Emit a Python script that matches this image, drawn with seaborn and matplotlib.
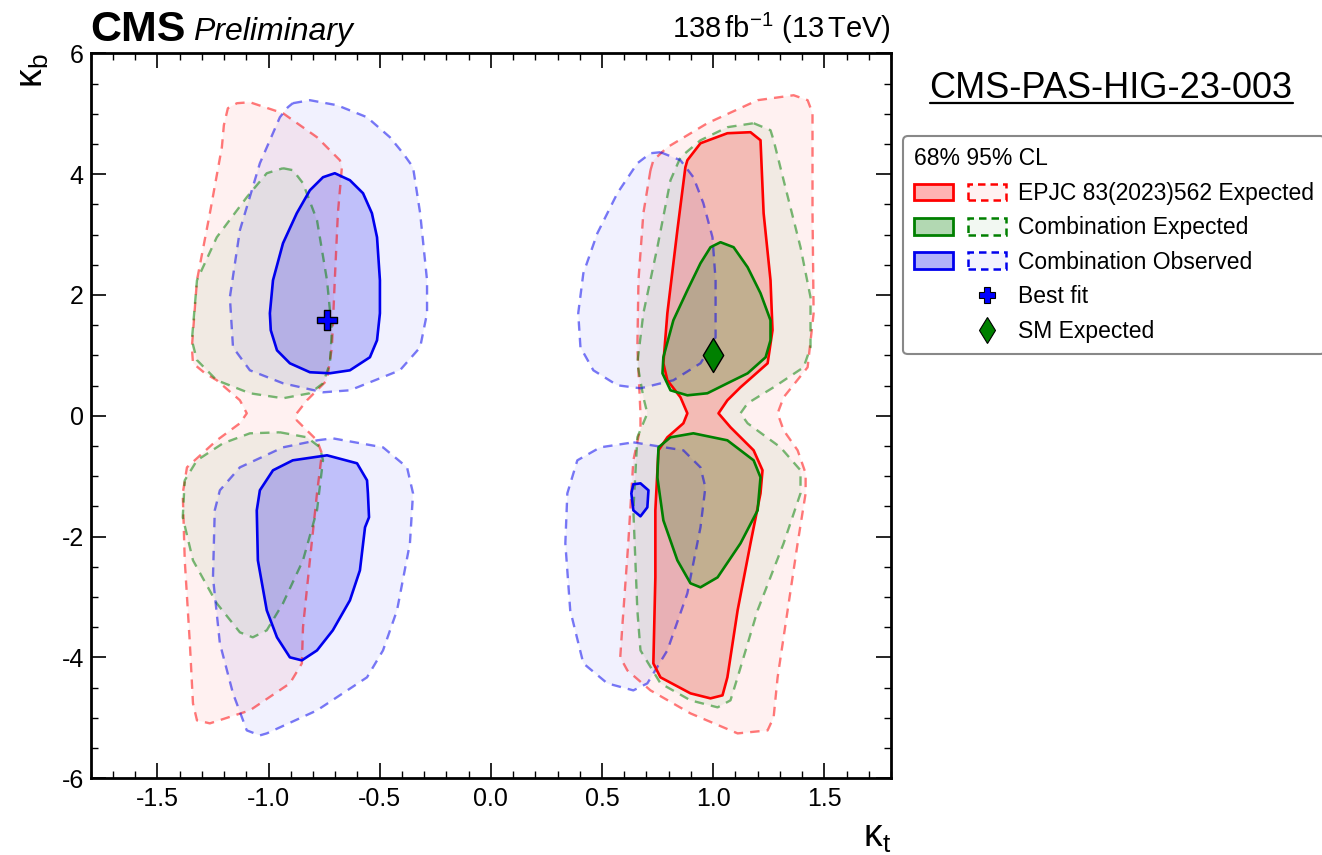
import matplotlib
matplotlib.use("Agg")
import numpy as np
import pandas as pd
import matplotlib.pyplot as plt
import seaborn as sns
from matplotlib.patches import Patch
from matplotlib.lines import Line2D
from matplotlib.legend_handler import HandlerTuple
from matplotlib.colors import to_rgba
from matplotlib.ticker import MultipleLocator, FormatStrFormatter

sns.set_theme(style="ticks")
plt.rcParams['font.family'] = ['Liberation Sans', 'DejaVu Sans']
plt.rcParams['axes.unicode_minus'] = False
plt.rcParams['mathtext.fontset'] = 'custom'
plt.rcParams['mathtext.rm'] = 'Liberation Sans'
plt.rcParams['mathtext.it'] = 'Liberation Sans:italic'
plt.rcParams['mathtext.bf'] = 'Liberation Sans:bold'
for k in ['text.color', 'axes.labelcolor', 'xtick.color', 'ytick.color', 'axes.edgecolor']:
    plt.rcParams[k] = 'black'

# ---------------- data (contour vertices, kappa_t / kappa_b) ----------------
# EPJC 83(2023)562 expected, 95% CL
epjc95_left_x = [-0.873, -0.827, -0.737, -0.715, -0.702, -0.688, -0.670, -0.679, -0.782, -0.935,
                 -1.084, -1.142, -1.183, -1.201, -1.210, -1.264, -1.322, -1.345, -1.340, -1.286,
                 -1.233, -1.129, -1.098, -1.129, -1.233, -1.367, -1.386, -1.377, -1.354, -1.340,
                 -1.322, -1.264, -1.084, -0.904, -0.850, -0.845, -0.814, -0.782, -0.760, -0.782, -0.873]
epjc95_left_y = [0.041, 0.257, 0.588, 1.134, 2.243, 3.353, 4.114, 4.230, 4.611, 5.008,
                 5.190, 5.174, 5.091, 4.810, 4.445, 3.353, 2.243, 1.134, 0.869, 0.704,
                 0.588, 0.257, 0.041, -0.124, -0.406, -0.853, -1.283, -2.392, -3.767, -4.760,
                 -5.041, -5.091, -4.876, -4.429, -4.098, -3.502, -2.392, -1.283, -0.621, -0.406, -0.075]
epjc95_right_x = [0.718, 0.686, 0.664, 0.659, 0.673, 0.673, 0.641, 0.618, 0.591, 0.582,
                  0.614, 0.718, 0.898, 1.110, 1.245, 1.272, 1.290, 1.335, 1.380, 1.416,
                  1.416, 1.380, 1.317, 1.290, 1.317, 1.425, 1.452, 1.447, 1.447, 1.425,
                  1.362, 1.200, 0.974, 0.794, 0.731]
epjc95_right_y = [4.065, 3.353, 2.243, 1.134, 0.041, -0.190, -0.737, -2.111, -3.502, -3.998,
                  -4.214, -4.545, -4.926, -5.257, -5.207, -4.992, -4.329, -3.220, -2.111, -1.283,
                  -0.952, -0.571, -0.240, 0.041, 0.306, 0.803, 1.697, 3.353, 5.008, 5.224,
                  5.306, 5.224, 4.843, 4.445, 4.230]
# EPJC 83(2023)562 expected, 68% CL
epjc68_right_x = [0.884, 0.943, 1.064, 1.168, 1.213, 1.227, 1.258, 1.267, 1.245, 1.123,
                  1.064, 1.024, 1.078, 1.182, 1.222, 1.213, 1.168, 1.110, 1.064, 1.042,
                  0.988, 0.898, 0.763, 0.731, 0.740, 0.740, 0.754, 0.794, 0.866, 0.884,
                  0.853, 0.794, 0.776, 0.794, 0.839, 0.875]
epjc68_right_y = [4.230, 4.511, 4.677, 4.694, 4.561, 3.353, 2.243, 1.416, 0.869, 0.472,
                  0.257, 0.041, -0.190, -0.571, -0.902, -1.283, -2.111, -3.220, -4.329, -4.627,
                  -4.677, -4.594, -4.329, -4.098, -2.674, -1.565, -0.571, -0.356, -0.124, 0.041,
                  0.306, 0.588, 0.869, 1.697, 3.071, 4.114]

# Combination expected, 95% CL
cexp95_lt_x = [-0.935, -0.890, -0.845, -0.782, -0.737, -0.715, -0.724, -0.755, -0.814, -0.935,
               -1.084, -1.233, -1.322, -1.345, -1.322, -1.233, -1.098, -1.008]
cexp95_lt_y = [4.098, 4.065, 3.849, 3.237, 2.243, 1.416, 0.869, 0.538, 0.373, 0.290,
               0.373, 0.588, 0.921, 1.250, 2.243, 2.955, 3.618, 4.015]
cexp95_lb_x = [-0.949, -0.827, -0.769, -0.755, -0.782, -0.845, -0.935, -1.008, -1.071, -1.129,
               -1.233, -1.340, -1.386, -1.377, -1.322, -1.205, -1.084]
cexp95_lb_y = [-0.273, -0.356, -0.522, -0.737, -1.565, -2.392, -3.104, -3.551, -3.667, -3.584,
               -3.104, -2.392, -1.680, -1.068, -0.737, -0.455, -0.290]
cexp95_right_x = [1.182, 1.258, 1.272, 1.317, 1.393, 1.438, 1.438, 1.407, 1.272, 1.155,
                  1.123, 1.155, 1.303, 1.393, 1.393, 1.317, 1.200, 1.110, 1.078, 1.020,
                  0.898, 0.763, 0.673, 0.659, 0.641, 0.659, 0.704, 0.686, 0.659, 0.686,
                  0.749, 0.808, 0.853, 0.943, 1.064]
cexp95_right_y = [4.843, 4.727, 4.561, 3.899, 2.790, 1.962, 1.134, 0.803, 0.472, 0.207,
                  0.041, -0.124, -0.522, -0.902, -1.283, -2.111, -3.220, -4.329, -4.710, -4.826,
                  -4.710, -4.429, -3.883, -3.220, -1.565, -0.356, 0.041, 0.306, 0.869, 1.697,
                  2.790, 3.899, 4.280, 4.561, 4.777]
# Combination expected, 68% CL
cexp68_rt_x = [1.033, 1.092, 1.155, 1.213, 1.258, 1.258, 1.236, 1.155, 1.064, 0.974,
               0.884, 0.808, 0.772, 0.776, 0.821, 0.884, 0.943, 0.988]
cexp68_rt_y = [2.873, 2.790, 2.459, 2.029, 1.581, 1.250, 0.969, 0.703, 0.538, 0.373,
               0.339, 0.422, 0.703, 0.969, 1.581, 2.078, 2.525, 2.790]
cexp68_rb_x = [0.911, 1.064, 1.182, 1.213, 1.200, 1.123, 1.020, 0.943, 0.898, 0.839,
               0.776, 0.749, 0.754, 0.808]
cexp68_rb_y = [-0.290, -0.406, -0.737, -1.018, -1.565, -2.111, -2.674, -2.839, -2.773, -2.392,
               -1.730, -1.018, -0.522, -0.356]

# Combination observed, 95% CL
cobs95_lt_x = [-0.891, -0.814, -0.692, -0.557, -0.454, -0.395, -0.350, -0.318, -0.287, -0.287,
               -0.318, -0.409, -0.634, -0.755, -0.935, -1.084, -1.160, -1.174, -1.129, -1.039,
               -0.949, -0.913]
cobs95_lt_y = [5.174, 5.224, 5.141, 4.942, 4.611, 4.346, 4.114, 3.353, 2.243, 1.697,
               1.134, 0.753, 0.422, 0.389, 0.538, 0.753, 1.134, 1.962, 3.071, 4.180,
               4.942, 5.108]
cobs95_lb_x = [-0.782, -0.711, -0.485, -0.377, -0.350, -0.364, -0.422, -0.485, -0.557, -0.782,
               -1.008, -1.039, -1.098, -1.160, -1.219, -1.250, -1.242, -1.219, -1.129, -0.935]
cobs95_lb_y = [-0.406, -0.373, -0.522, -0.853, -1.283, -2.111, -3.220, -3.883, -4.329, -4.876,
               -5.257, -5.290, -5.207, -4.594, -3.767, -2.674, -1.565, -1.233, -0.853, -0.522]
cobs95_rt_x = [0.763, 0.853, 0.911, 0.956, 0.997, 1.011, 1.011, 0.988, 0.943, 0.821,
               0.673, 0.569, 0.461, 0.403, 0.393, 0.416, 0.479, 0.569, 0.659, 0.718]
cobs95_rt_y = [4.363, 4.230, 3.949, 3.519, 2.955, 2.243, 1.300, 1.134, 0.869, 0.588,
               0.455, 0.505, 0.753, 1.134, 1.697, 2.359, 3.021, 3.684, 4.180, 4.346]
cobs95_rb_x = [0.641, 0.866, 0.943, 0.965, 0.943, 0.884, 0.794, 0.704, 0.641, 0.524,
               0.416, 0.357, 0.335, 0.344, 0.389, 0.492]
cobs95_rb_y = [-0.439, -0.571, -0.853, -1.184, -1.846, -2.939, -3.883, -4.429, -4.545, -4.429,
               -4.098, -3.220, -2.111, -1.283, -0.737, -0.522]
# Combination observed, 68% CL
cobs68_lt_x = [-0.702, -0.634, -0.575, -0.535, -0.512, -0.499, -0.499, -0.512, -0.544, -0.634,
               -0.724, -0.814, -0.904, -0.962, -0.990, -0.994, -0.980, -0.935, -0.873, -0.814, -0.755]
cobs68_lt_y = [4.015, 3.899, 3.684, 3.353, 2.955, 2.243, 1.697, 1.250, 0.969, 0.753,
               0.704, 0.721, 0.869, 1.084, 1.416, 1.697, 2.243, 2.856, 3.353, 3.733, 3.949]
cobs68_lb_x = [-0.737, -0.602, -0.557, -0.553, -0.548, -0.566, -0.589, -0.634, -0.711, -0.782,
               -0.850, -0.904, -0.962, -1.008, -1.048, -1.053, -1.039, -0.980, -0.891]
cobs68_lb_y = [-0.654, -0.786, -1.068, -1.283, -1.680, -1.846, -2.558, -3.055, -3.551, -3.883,
               -4.048, -3.998, -3.667, -3.220, -2.392, -1.565, -1.233, -0.902, -0.737]
cobs68_r_x = [0.673, 0.709, 0.704, 0.673, 0.641, 0.632, 0.641]
cobs68_r_y = [-1.118, -1.233, -1.515, -1.664, -1.565, -1.283, -1.134]

bestfit_x, bestfit_y = [-0.735], [1.58]
sm_x, sm_y = [1.0], [1.0]

legend_labels = ["EPJC 83(2023)562 Expected", "Combination Expected",
                 "Combination Observed", "Best fit", "SM Expected"]

# ---------------- figure ----------------
W, H = 1322, 855
fig = plt.figure(figsize=(W / 100, H / 100), dpi=100)
ax = fig.add_axes([90.7 / W, 1 - 778.3 / H, 800.3 / W, 725.0 / H])

RED, GREEN, BLUE = "#ff0000", "#008000", "#0000ee"
dash = (0, (4.0, 3.0))

layers = [
    ([(epjc95_left_x, epjc95_left_y), (epjc95_right_x, epjc95_right_y)], RED, False),
    ([(cexp95_lt_x, cexp95_lt_y), (cexp95_lb_x, cexp95_lb_y), (cexp95_right_x, cexp95_right_y)], GREEN, False),
    ([(cobs95_lt_x, cobs95_lt_y), (cobs95_lb_x, cobs95_lb_y), (cobs95_rt_x, cobs95_rt_y), (cobs95_rb_x, cobs95_rb_y)], BLUE, False),
    ([(epjc68_right_x, epjc68_right_y)], RED, True),
    ([(cexp68_rt_x, cexp68_rt_y), (cexp68_rb_x, cexp68_rb_y)], GREEN, True),
    ([(cobs68_lt_x, cobs68_lt_y), (cobs68_lb_x, cobs68_lb_y), (cobs68_r_x, cobs68_r_y)], BLUE, True),
]

for polys, col, is68 in layers:
    for px, py in polys:
        if is68:
            ax.fill(px, py, facecolor=to_rgba(col, 0.2), edgecolor="none", zorder=3)
            ax.fill(px, py, facecolor="none", edgecolor=col, lw=1.9, joinstyle="round", zorder=5)
        else:
            ax.fill(px, py, facecolor=to_rgba(col, 0.055), edgecolor="none", zorder=2)
            ax.fill(px, py, facecolor="none", edgecolor=to_rgba(col, 0.52), lw=1.7,
                    linestyle=dash, joinstyle="round", zorder=4)

sns.scatterplot(x=bestfit_x, y=bestfit_y, marker="P", s=190, color="blue",
                edgecolor="black", linewidth=1.0, ax=ax, zorder=10, legend=False)
sns.scatterplot(x=sm_x, y=sm_y, marker="d", s=300, color="green",
                edgecolor="black", linewidth=1.0, ax=ax, zorder=10, legend=False)

ax.set_xlim(-1.8, 1.8)
ax.set_ylim(-6, 6)
ax.xaxis.set_major_locator(MultipleLocator(0.5))
ax.xaxis.set_minor_locator(MultipleLocator(0.1))
ax.yaxis.set_major_locator(MultipleLocator(2))
ax.yaxis.set_minor_locator(MultipleLocator(0.5))
ax.xaxis.set_major_formatter(FormatStrFormatter("%.1f"))
ax.yaxis.set_major_formatter(FormatStrFormatter("%d"))
ax.tick_params(which="both", direction="in", top=True, right=True, colors="black")
ax.tick_params(which="major", length=11, width=1.2, labelsize=18, pad=6)
ax.tick_params(axis="y", which="major", pad=5)
ax.tick_params(which="minor", length=5, width=1.0)
for s in ax.spines.values():
    s.set_linewidth(2.0)
    s.set_color("black")

ax.set_xlabel("κ$_\\mathrm{t}$", fontsize=27, loc="right")
ax.xaxis.set_label_coords(1.0, -0.056)
ax.set_ylabel("κ$_\\mathrm{b}$", fontsize=27, loc="top")
ax.yaxis.set_label_coords(-0.05, 1.0)

# header texts
fig.text(90.7 / W, 1 - 41 / H, "CMS", fontsize=31, fontweight="bold", ha="left", va="baseline")
fig.text(193 / W, 1 - 40 / H, "Preliminary", fontsize=23, style="italic", ha="left", va="baseline")
fig.text(891 / W, 1 - 38 / H, "138$\\,$fb$^{-1}$ (13$\\,$TeV)", fontsize=21, ha="right", va="baseline")
pas = fig.text(1111 / W, 1 - 98 / H, "CMS-PAS-HIG-23-003", fontsize=26, ha="center", va="baseline")
fig.canvas.draw()
bb = pas.get_window_extent()
fig.add_artist(Line2D([bb.x0 / W, bb.x1 / W], [1 - 103 / H, 1 - 103 / H],
                      transform=fig.transFigure, color="black", lw=1.6))

# legend
def solid(c):
    return Patch(facecolor=to_rgba(c, 0.3), edgecolor=c, lw=2.0)

def dashed(c):
    return Patch(facecolor=to_rgba(c, 0.05), edgecolor=c, lw=1.8, linestyle=(0, (3.0, 2.0)))

empty = Line2D([], [], linestyle="none")
bf_h = Line2D([], [], linestyle="none", marker="P", markersize=11, markerfacecolor="blue",
              markeredgecolor="black", markeredgewidth=0.8)
sm_h = Line2D([], [], linestyle="none", marker="d", markersize=13, markerfacecolor="green",
              markeredgecolor="black", markeredgewidth=0.8)
handles = [(solid(RED), dashed(RED)), (solid(GREEN), dashed(GREEN)), (solid(BLUE), dashed(BLUE)),
           (empty, bf_h), (empty, sm_h)]
leg = fig.legend(handles, legend_labels, handler_map={tuple: HandlerTuple(ndivide=None, pad=0.65)},
                 loc="upper left", bbox_to_anchor=(903 / W, 1 - 136 / H),
                 title="68% 95% CL", alignment="left", fontsize=16.5, title_fontsize=16.5,
                 handlelength=4.0, handleheight=0.75, handletextpad=0.5, labelspacing=0.5,
                 borderpad=0.5, frameon=True, fancybox=True, framealpha=1.0, borderaxespad=0)
leg.get_frame().set_edgecolor("#888888")
leg.get_frame().set_linewidth(1.5)

fig.savefig("out.png", dpi=100)
